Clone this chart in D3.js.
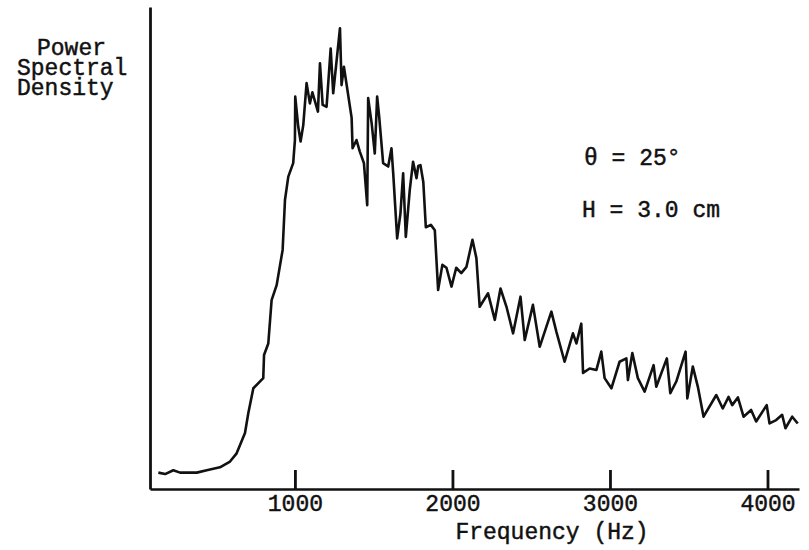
<!DOCTYPE html>
<html>
<head>
<meta charset="utf-8">
<script src="https://cdn.jsdelivr.net/npm/d3@7"></script>
<style>
  body { margin: 0; background: #fff; }
  text { font-family: "Liberation Mono", "DejaVu Sans Mono", monospace; fill: #111; stroke: #111; stroke-width: 0.45px; }
</style>
</head>
<body>
<div id="chart"></div>
<script>
// spectrum (Hz, arbitrary PSD units)
var freq = [133,176,228,271,377,440,524,588,630,683,704,736,799,804,831,852,884,922,937,958,
  989,1000,1002,1021,1036,1053,1074,1095,1111,1146,1159,1176,1201,1227,1243,1286,1296,1311,1360,1366,
  1391,1412,1438,1459,1465,1487,1507,1522,1535,1560,1592,1613,1624,1649,1670,1687,1704,1729,1750,1772,
  1783,1797,1815,1831,1863,1888,1909,1936,1962,1994,2024,2056,2089,2127,2152,2173,2226,2269,2305,2343,
  2385,2432,2459,2511,2554,2628,2660,2712,2765,2787,2818,2829,2871,2914,2945,2966,3009,3061,3104,3114,
  3142,3177,3220,3277,3294,3361,3383,3421,3480,3491,3526,3558,3594,3675,3716,3753,3776,3812,3848,3896,
  3928,3995,4013,4055,4093,4114,4157,4192];
var psd = [3.4,3.1,3.9,3.4,3.4,3.9,4.5,5.7,7.4,11.6,15.7,20.9,23.0,27.8,30.2,39.2,42.3,49.6,60.0,64.8,
  67.6,72.4,81.4,75.2,72.1,75.5,84.2,80.0,82.3,78.3,88.3,79.7,79.3,91.4,82.1,95.6,83.8,87.6,77.0,70.7,
  72.4,70.0,67.6,58.9,81.1,75.9,69.6,81.4,77.2,67.6,66.9,70.7,65.5,52.0,57.2,65.5,52.3,62.0,67.9,64.5,
  67.0,67.2,63.7,54.3,54.8,53.7,41.3,46.5,45.9,42.0,45.9,44.8,46.1,51.7,47.9,37.8,40.6,35.1,41.6,37.8,
  32.3,39.9,30.9,38.2,29.5,36.8,32.6,26.4,32.3,30.2,34.3,24.1,25.0,24.7,28.5,23.0,20.9,26.4,27.1,22.6,
  28.2,23.0,20.2,25.7,21.2,27.1,19.9,22.3,28.5,18.8,25.4,21.2,15.0,19.5,16.7,19.1,17.4,19.0,15.0,16.4,
  14.0,17.4,13.6,14.3,15.4,12.6,15.0,13.6];
var xTicks = [1000, 2000, 3000, 4000];
var yLabel = ["Power", "Spectral", "Density"];
var notes = ["\u03b8 = 25\u00b0", "H = 3.0 cm"];

var W = 809, H = 550;
var margin = {top: 7, right: 10, bottom: 61, left: 150};
var fs = 23;

var svg = d3.select("#chart").append("svg")
    .attr("width", W)
    .attr("height", H);

var x = d3.scaleLinear()
  .domain([80, 4200])
  .range([margin.left, W - margin.right]);
var y = d3.scaleLinear()
  .domain([0, 100])
  .range([H - margin.bottom, margin.top]);

// x axis, ticks pointing up into the plot
var xa = svg.append("g")
  .attr("transform", "translate(0," + (H - margin.bottom) + ")")
  .call(d3.axisBottom(x).tickValues(xTicks).tickFormat(d3.format("d"))
    .tickSizeInner(-19).tickSizeOuter(0));
xa.select(".domain").attr("stroke", "#111").attr("stroke-width", 2.4);
xa.selectAll(".tick line").attr("stroke", "#111").attr("stroke-width", 2.8);
xa.selectAll(".tick text")
  .attr("y", 22).attr("dy", 0)
  .attr("font-size", fs).attr("font-family", "Liberation Mono")
  .attr("fill", "#111");

// y axis, bare line
var ya = svg.append("g")
  .attr("transform", "translate(" + margin.left + ",0)")
  .call(d3.axisLeft(y).tickValues([]).tickSizeOuter(0));
ya.select(".domain").attr("stroke", "#111").attr("stroke-width", 2.8);

// trace
var pts = freq.map(function(f, i) { return [f, psd[i]]; });
svg.append("path")
  .datum(pts)
  .attr("fill", "none")
  .attr("stroke", "#111")
  .attr("stroke-width", 2.6)
  .attr("stroke-linejoin", "round")
  .attr("d", d3.line()
    .x(function(d) { return x(d[0]); })
    .y(function(d) { return y(d[1]); }));

// labels
svg.append("text")
  .attr("x", 552).attr("y", 539)
  .attr("text-anchor", "middle")
  .attr("font-size", fs)
  .text("Frequency (Hz)");

var ylx = [37, 17, 17];
svg.selectAll(".ylab")
  .data(yLabel)
  .enter().append("text")
  .attr("class", "ylab")
  .attr("x", function(d, i) { return ylx[i]; })
  .attr("y", function(d, i) { return 55 + i * 20; })
  .attr("font-size", fs)
  .text(function(d) { return d; });

svg.selectAll(".note")
  .data(notes)
  .enter().append("text")
  .attr("class", "note")
  .attr("x", function(d, i) { return i ? 582 : 584; })
  .attr("y", function(d, i) { return 165 + i * 52; })
  .attr("font-size", fs)
  .text(function(d) { return d; });
</script>
</body>
</html>
